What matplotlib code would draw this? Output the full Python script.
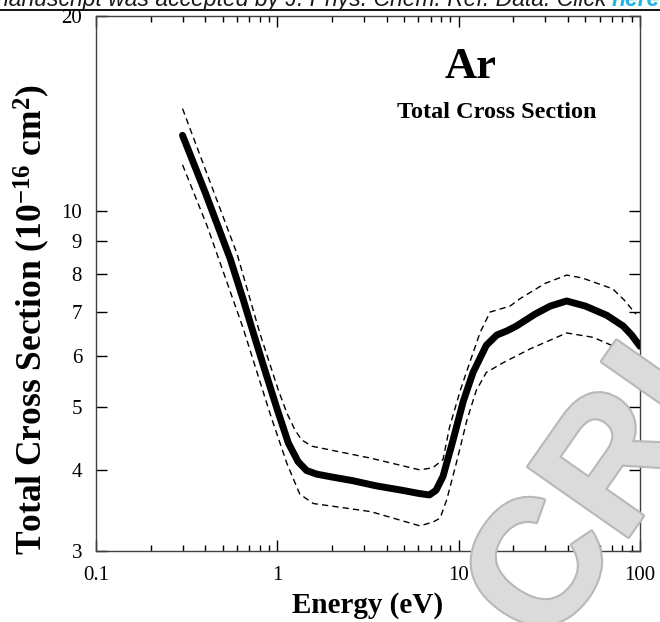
import numpy as np
import matplotlib.pyplot as plt
import matplotlib.patheffects as pe
from matplotlib.lines import Line2D
from matplotlib.ticker import FixedLocator, NullFormatter, NullLocator

# recommended total cross section for Ar
energy = [0.3, 0.4, 0.55, 0.65, 0.75, 0.87, 1.0, 1.15, 1.3, 1.45, 1.65, 2.0, 2.6,
          3.5, 4.9, 6.0, 6.9, 7.5, 8.2, 9.3, 10.6, 12.0, 14.2, 16.2, 18.5, 20.8,
          26.4, 32, 39.4, 50, 65.6, 80.8, 90, 100]
sigma = [13.1, 10.7, 8.45, 7.3, 6.4, 5.6, 4.95, 4.4, 4.12, 3.99, 3.94, 3.9, 3.85,
         3.78, 3.72, 3.68, 3.66, 3.72, 3.91, 4.44, 5.1, 5.65, 6.22, 6.45, 6.55, 6.66,
         6.95, 7.15, 7.28, 7.15, 6.92, 6.66, 6.45, 6.2]

# uncertainty band (dashed)
energy_hi = [0.3, 0.6, 0.8, 1.01, 1.13, 1.25, 1.36, 1.55, 3.27, 6.1, 7.2, 8.2, 8.9,
             10.2, 11.5, 13.1, 14.9, 19.2, 21.8, 30, 39.4, 48, 70.7, 82, 95]
sigma_hi = [14.4, 8.6, 6.5, 5.32, 4.89, 4.61, 4.45, 4.35, 4.17, 4.0, 4.03, 4.15, 4.65,
            5.3, 5.85, 6.5, 7.0, 7.15, 7.34, 7.75, 7.98, 7.9, 7.6, 7.3, 6.95]
energy_lo = [0.3, 0.41, 0.649, 0.91, 1.13, 1.33, 1.58, 3.27, 6.1, 6.6, 7.3, 7.9, 8.6,
             9.8, 11.1, 12.5, 14.2, 17.6, 24.7, 39.4, 55.2, 77.6, 91.8]
sigma_lo = [11.8, 9.5, 6.6, 4.89, 4.09, 3.67, 3.55, 3.45, 3.28, 3.3, 3.33, 3.37, 3.6,
            4.14, 4.77, 5.3, 5.65, 5.85, 6.14, 6.5, 6.4, 6.14, 5.8]

y_ticks = [3, 4, 5, 6, 7, 8, 9, 10, 20]
x_ticks = [0.1, 1, 10, 100]
x_tick_labels = ['0.1', '1', '10', '100']

plt.rcParams['font.family'] = ['Liberation Serif', 'DejaVu Serif']
plt.rcParams['mathtext.fontset'] = 'custom'
plt.rcParams['mathtext.rm'] = 'Liberation Serif:bold'
plt.rcParams['mathtext.it'] = 'Liberation Serif:bold'
plt.rcParams['mathtext.bf'] = 'Liberation Serif:bold'

W, H = 660, 622
fig = plt.figure(figsize=(W / 100, H / 100), dpi=100)

# watermark, partly visible in the corner
fig.text(598 / W, 1 - 500 / H, 'CRI', rotation=55, fontsize=128, color='0.86',
         family='Liberation Sans', weight='bold', ha='center', va='center',
         rotation_mode='anchor', zorder=0,
         path_effects=[pe.withStroke(linewidth=3, foreground='0.72')])

ax = fig.add_axes([96 / W, 1 - 551 / H, 544 / W, 535 / H])
ax.set_facecolor('none')
ax.set_xscale('log')
ax.set_yscale('log')

ax.plot(energy, sigma, color='black', lw=5, solid_capstyle='round', zorder=3)
ax.plot(energy_hi, sigma_hi, color='black', lw=1, dashes=(4.5, 3), zorder=3)
ax.plot(energy_lo, sigma_lo, color='black', lw=1, dashes=(4.5, 3), zorder=3)

ax.set_xlim(0.1, 100)
ax.set_ylim(3, 20)

ax.xaxis.set_major_locator(FixedLocator(x_ticks))
ax.set_xticklabels(x_tick_labels)
ax.yaxis.set_major_locator(FixedLocator(y_ticks))
ax.set_yticklabels([str(v) for v in y_ticks])
ax.yaxis.set_minor_locator(NullLocator())
ax.xaxis.set_minor_formatter(NullFormatter())

ax.tick_params(which='both', direction='in', top=True, right=True, labelsize=15)
ax.tick_params(which='major', length=8, width=1)
ax.tick_params(which='minor', length=4.5, width=1)
ax.tick_params(axis='x', pad=11)
ax.tick_params(axis='y', pad=10)
for s in ax.spines.values():
    s.set_linewidth(1)
    s.set_color('0.25')

ax.set_xlabel('Energy (eV)', fontsize=21, fontweight='bold', labelpad=5)
ax.set_ylabel('Total Cross Section (10$^{-16}$ cm$^{2}$)', fontsize=25.5,
              fontweight='bold')
ax.yaxis.set_label_coords(-0.08, 0.432)

fig.text(471 / W, 1 - 67 / H, 'Ar', fontsize=32, fontweight='bold',
         ha='center', va='center')
fig.text(497 / W, 1 - 112 / H, 'Total Cross Section', fontsize=17.5,
         fontweight='bold', ha='center', va='center')

# journal header, cut off at the top
fig.add_artist(Line2D([0, 1], [1 - 10 / H, 1 - 10 / H], transform=fig.transFigure,
                      color='black', lw=1.3))
r = fig.canvas.get_renderer()
here = fig.text(660 / W, 1 - 6 / H, 'here', color='#1fb5e8', fontsize=16.5,
                family='Liberation Sans', style='italic', weight='bold',
                ha='right', va='baseline')
bb = here.get_window_extent(renderer=r)
fig.text((bb.x0 - 5) / W, 1 - 6 / H,
         'This manuscript was accepted by J. Phys. Chem. Ref. Data. Click',
         color='0.1', fontsize=16.5, family='Liberation Sans', style='italic',
         ha='right', va='baseline')

fig.savefig('out.png', dpi=100)
